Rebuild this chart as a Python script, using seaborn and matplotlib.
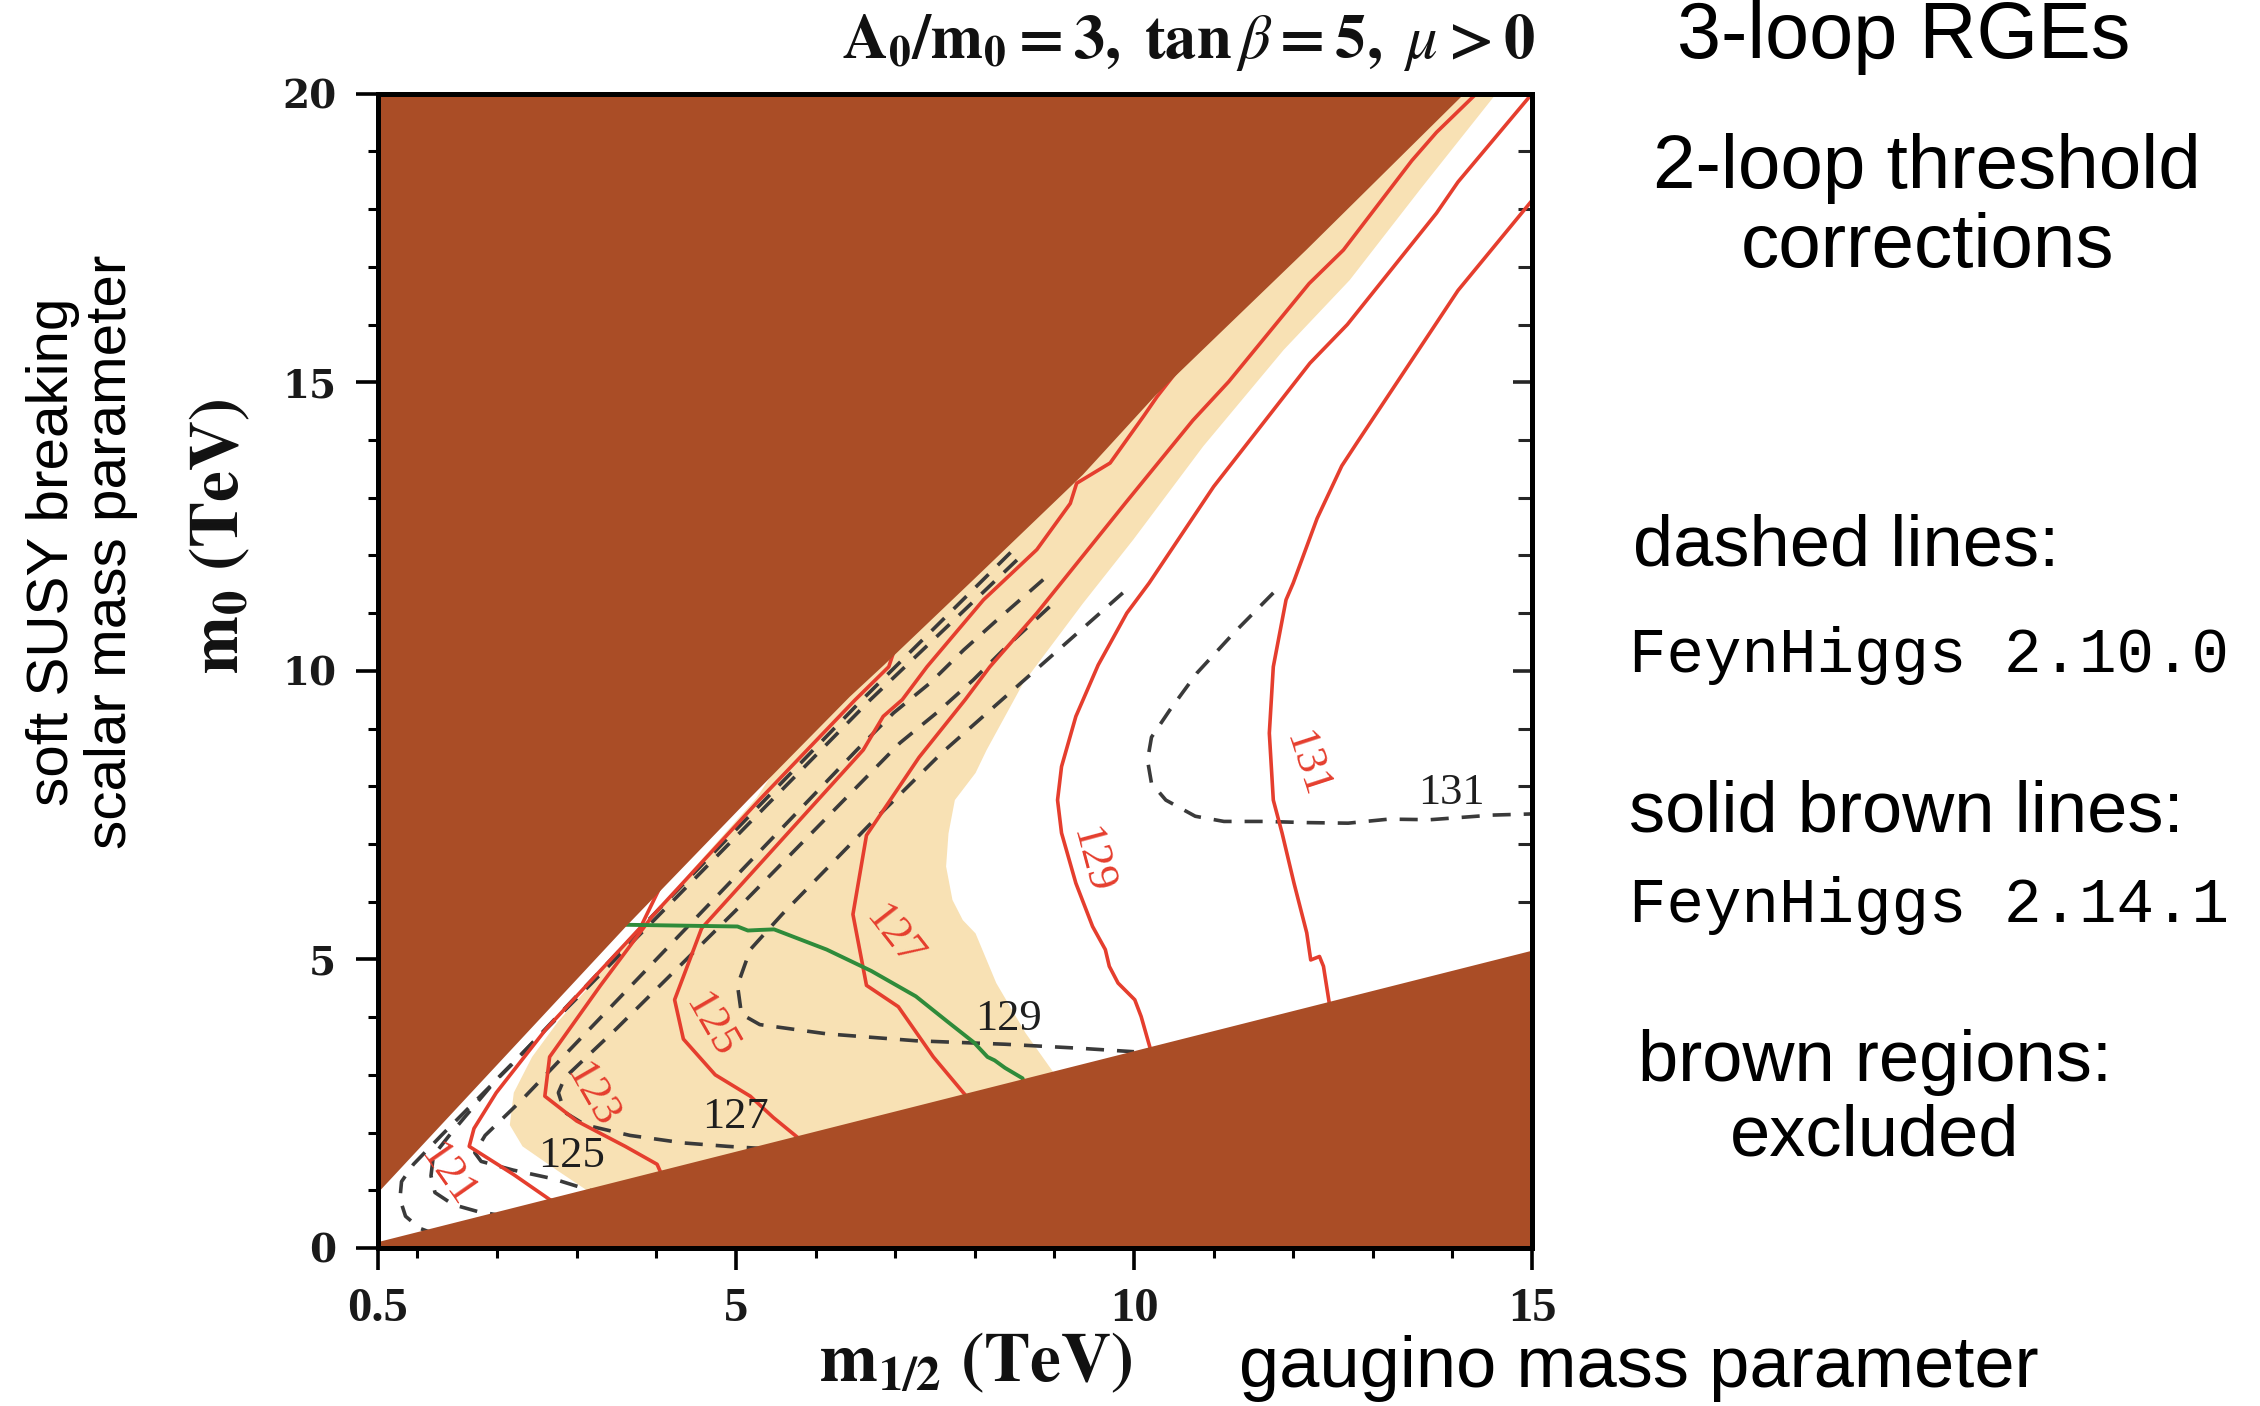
import matplotlib
matplotlib.use("Agg")
import numpy as np
import pandas as pd
import matplotlib.pyplot as plt
from matplotlib.ticker import MultipleLocator, NullFormatter
import seaborn as sns

sns.set_theme(style="ticks")
plt.rcParams["font.family"] = ["DejaVu Sans"]
plt.rcParams["mathtext.fontset"] = "stix"
plt.rcParams["lines.dashed_pattern"] = [5.0, 3.6]

# ---------------- data (m_1/2 [TeV], m_0 [TeV]) ----------------
# excluded regions
upper_excl_m12 = [0.5, 3.64, 5.18, 6.43, 6.86, 8.0, 9.36, 10.29, 12.17, 14.15, 14.15, 0.0, 0.0]
upper_excl_m0 = [0.95, 5.6, 7.8, 9.55, 10.1, 11.6, 13.4, 14.8, 17.3, 20.0, 21.0, 21.0, 0.95]
lower_excl_m12 = [0.0, 0.5, 15.0, 15.5, 15.5, 0.0]
lower_excl_m0 = [0.08, 0.1, 5.15, 5.3, -1.0, -1.0]

# shaded band
band_m12 = [3.4, 3.17, 2.77, 2.32, 2.16, 2.21, 2.44, 2.77, 3.17, 3.56, 3.92, 4.42, 5.26, 5.5, 4.5,
            12.0, 14.9, 14.55, 13.6, 12.71, 11.88, 10.87, 9.99, 9.36, 8.61, 8.15, 8.01, 7.75,
            7.67, 7.64, 7.72, 7.85, 8.01, 8.27, 8.64, 9.01, 9.3]
band_m0 = [0.5, 0.96, 1.33, 1.76, 2.13, 2.69, 3.31, 3.93, 4.55, 5.17, 5.66, 6.5, 7.8, 8.3, 8.5,
           21.0, 21.0, 20.0, 18.35, 16.77, 15.56, 13.89, 12.27, 11.17, 9.79, 8.63, 8.23, 7.76,
           7.18, 6.61, 6.03, 5.68, 5.45, 4.59, 3.72, 3.0, 2.0]

# FeynHiggs 2.14.1 contours (solid)
fh14_levels = [121, 123, 125, 127, 129, 131]
fh14_121_m12 = [4.1, 3.8, 2.62, 1.99, 1.71, 1.65, 2.21, 2.66, 2.95]
fh14_121_m0 = [6.4, 5.55, 3.8, 2.69, 2.07, 1.76, 1.27, 0.84, 0.65]
fh14_123_m12 = [7.0, 6.92, 6.5, 5.32, 3.95, 3.3, 2.66, 2.6, 3.0, 3.61, 4.01, 4.09, 4.3]
fh14_123_m0 = [10.4, 10.07, 9.5, 7.8, 5.75, 4.55, 3.31, 2.63, 2.2, 1.76, 1.45, 1.2, 0.9]
fh14_125_m12 = [10.6, 10.29, 10.12, 9.7, 9.28, 9.2, 8.78, 8.11, 7.4, 7.09, 6.85, 6.6, 4.57,
                4.23, 4.34, 4.74, 5.18, 5.47, 5.86, 6.1]
fh14_125_m0 = [15.3, 14.75, 14.41, 13.6, 13.25, 12.9, 12.1, 11.23, 10.07, 9.5, 9.21, 8.63, 5.54,
               4.3, 3.62, 3.0, 2.63, 2.26, 1.82, 1.6]
fh14_127_m12 = [14.3, 13.8, 13.49, 12.63, 12.2, 11.19, 10.74, 9.9, 8.78, 8.19, 7.88, 7.3, 6.64,
                6.47, 6.64, 7.04, 7.48, 7.93, 8.15]
fh14_127_m0 = [20.0, 19.33, 18.84, 17.29, 16.71, 15.01, 14.34, 12.92, 11.0, 10.07, 9.5, 8.5, 7.15,
               5.78, 4.55, 4.18, 3.31, 2.57, 2.2]
fh14_129_m12 = [15.0, 14.07, 13.8, 12.68, 12.21, 11.0, 10.19, 9.91, 9.55, 9.27, 9.09, 9.04, 9.09,
                9.27, 9.48, 9.64, 9.69, 9.8, 10.01, 10.09, 10.22, 10.35]
fh14_129_m0 = [20.0, 18.47, 17.93, 16.0, 15.33, 13.19, 11.52, 11.0, 10.1, 9.21, 8.34, 7.76, 7.19,
               6.32, 5.57, 5.17, 4.88, 4.59, 4.3, 4.01, 3.38, 3.0]
fh14_131_m12 = [15.0, 14.07, 12.8, 12.61, 12.3, 12.0, 11.91, 11.75, 11.7, 11.75, 11.86, 12.01,
                12.17, 12.22, 12.33, 12.38, 12.46, 12.6]
fh14_131_m0 = [18.15, 16.59, 13.95, 13.55, 12.64, 11.52, 11.23, 10.07, 8.92, 7.76, 7.19, 6.32,
               5.46, 4.99, 5.05, 4.88, 4.18, 3.5]

# FeynHiggs 2.10.0 contours (dashed)
fh10_levels = [121, 123, 125, 127, 129, 131]
fh10_121_m12 = [8.45, 6.55, 3.9, 2.2, 1.3, 0.95, 0.8, 0.78, 0.85, 1.03, 1.3]
fh10_121_m0 = [12.05, 9.45, 5.68, 3.2, 1.95, 1.45, 1.15, 0.85, 0.55, 0.34, 0.2]
fh10_123_m12 = [8.53, 7.52, 6.69, 4.0, 2.0, 1.4, 1.2, 1.17, 1.22, 1.45, 1.76, 2.1]
fh10_123_m0 = [11.92, 10.59, 9.5, 5.72, 2.93, 1.95, 1.6, 1.25, 0.96, 0.75, 0.63, 0.55]
fh10_125_m12 = [8.86, 8.28, 7.86, 7.44, 6.98, 6.52, 4.0, 2.3, 1.85, 1.72, 1.8, 2.2, 2.7, 3.05, 3.4]
fh10_125_m0 = [11.58, 10.88, 10.36, 9.79, 9.27, 8.63, 5.0, 2.55, 1.95, 1.65, 1.5, 1.35, 1.2, 1.05, 0.9]
fh10_127_m12 = [8.94, 8.4, 7.98, 7.52, 7.06, 5.0, 3.5, 2.85, 2.77, 2.85, 3.11, 3.67, 4.34, 4.9, 5.6]
fh10_127_m0 = [11.11, 10.42, 9.84, 9.27, 8.75, 5.85, 3.8, 2.95, 2.69, 2.35, 2.13, 1.95, 1.82, 1.76, 1.7]
fh10_129_m12 = [9.86, 8.86, 7.58, 6.74, 5.58, 5.18, 5.02, 5.07, 5.3, 6.14, 7.26, 8.38, 9.32, 10.0]
fh10_129_m0 = [11.35, 10.13, 8.57, 7.42, 5.78, 5.17, 4.55, 4.05, 3.87, 3.71, 3.59, 3.53, 3.46, 3.4]
fh10_131_m12 = [11.75, 11.25, 10.79, 10.45, 10.22, 10.17, 10.22, 10.4, 10.77, 11.13, 11.65, 12.17,
                12.69, 13.2, 13.72, 14.5, 15.0]
fh10_131_m0 = [11.35, 10.65, 9.96, 9.32, 8.85, 8.45, 8.05, 7.76, 7.48, 7.39, 7.39, 7.37, 7.36,
               7.43, 7.42, 7.5, 7.52]

# green boundary
green_m12 = [3.6, 5.02, 5.15, 5.3, 5.48, 6.14, 6.7, 7.26, 7.65, 7.99, 8.16, 8.25, 8.38, 8.6, 8.66, 8.7]
green_m0 = [5.6, 5.57, 5.5, 5.51, 5.52, 5.17, 4.8, 4.36, 3.93, 3.56, 3.31, 3.25, 3.12, 2.94, 2.69, 2.5]

# contour label placement
fh14_label_m12 = [1.37, 3.18, 4.68, 6.98, 9.46, 12.16]
fh14_label_m0 = [1.27, 2.65, 3.85, 5.39, 6.72, 8.39]
fh14_label_rot = [-55, -60, -60, -52, -75, -72]
fh10_label_levels = [125, 127, 129, 131]
fh10_label_m12 = [2.94, 4.99, 8.43, 13.99]
fh10_label_m0 = [1.6, 2.27, 3.97, 7.89]

x_major = [0.5, 5, 10, 15]
x_major_labels = ["0.5", "5", "10", "15"]
y_major = [0, 5, 10, 15, 20]

BROWN = "#AA4D26"
TAN = "#F8E1B4"
RED = "#E53E2E"
DASH = "#3A3A3A"
GREEN = "#2F8B3A"


def long_frame(prefix, levels):
    parts = []
    for lev in levels:
        xs = globals()[f"{prefix}_{lev}_m12"]
        ys = globals()[f"{prefix}_{lev}_m0"]
        parts.append(pd.DataFrame({"m12": xs, "m0": ys, "level": lev,
                                   "order": np.arange(len(xs))}))
    return pd.concat(parts, ignore_index=True)


fh14 = long_frame("fh14", fh14_levels)
fh10 = long_frame("fh10", fh10_levels)
green = pd.DataFrame({"m12": green_m12, "m0": green_m0})

# ---------------- figure ----------------
fig = plt.figure(figsize=(11.3, 7.03), dpi=200, facecolor="white")
ax = fig.add_axes([0.1671, 0.1124, 0.5108, 0.8210])
ax.set_facecolor("white")

ax.fill(band_m12, band_m0, color=TAN, lw=0, zorder=1)

sns.lineplot(data=fh10, x="m12", y="m0", units="level", estimator=None, sort=False,
             color=DASH, lw=1.3, linestyle="--", legend=False, ax=ax, zorder=2)
sns.lineplot(data=fh14, x="m12", y="m0", units="level", estimator=None, sort=False,
             color=RED, lw=1.3, legend=False, ax=ax, zorder=2.2)
sns.lineplot(data=green, x="m12", y="m0", estimator=None, sort=False,
             color=GREEN, lw=1.4, legend=False, ax=ax, zorder=2.3)

ax.fill(upper_excl_m12, upper_excl_m0, color=BROWN, lw=0, zorder=3)
ax.fill(lower_excl_m12, lower_excl_m0, color=BROWN, lw=0, zorder=3)

for lev, x, y, r in zip(fh14_levels, fh14_label_m12, fh14_label_m0, fh14_label_rot):
    ax.text(x, y, str(lev), color=RED, fontsize=16, family="Liberation Serif",
            rotation=r, rotation_mode="anchor", ha="center", va="center", zorder=4)
for lev, x, y in zip(fh10_label_levels, fh10_label_m12, fh10_label_m0):
    ax.text(x, y, str(lev), color="#1E1E1E", fontsize=16, family="Liberation Serif",
            ha="center", va="center", zorder=4)

ax.set_xlim(0.5, 15)
ax.set_ylim(0, 20)
ax.set_xlabel("")
ax.set_ylabel("")
ax.set_xticks(x_major)
ax.set_xticklabels(x_major_labels)
ax.set_yticks(y_major)
ax.xaxis.set_minor_locator(MultipleLocator(1))
ax.yaxis.set_minor_locator(MultipleLocator(1))
ax.tick_params(which="major", direction="out", length=7.9, width=1.3, color="black",
               top=False, right=False)
ax.tick_params(which="minor", direction="out", length=3.6, width=1.1, color="black",
               top=False, right=False)
ax.tick_params(axis="x", which="major", pad=6.0)
ax.tick_params(axis="y", which="major", pad=7.0)
for lab in ax.get_xticklabels():
    lab.set_fontfamily("Liberation Serif")
    lab.set_fontweight("bold")
    lab.set_fontsize(17.5)
    lab.set_color("#1A1A1A")
for lab in ax.get_yticklabels():
    lab.set_fontfamily("DejaVu Serif")
    lab.set_fontweight("bold")
    lab.set_fontsize(14)
    lab.set_color("#1A1A1A")

for sp in ax.spines.values():
    sp.set_visible(True)
    sp.set_color("black")
    sp.set_linewidth(1.8)
    sp.set_zorder(10)

top = ax.secondary_xaxis("top")
top.set_xticks(x_major)
top.xaxis.set_minor_locator(MultipleLocator(1))
top.xaxis.set_major_formatter(NullFormatter())
top.tick_params(which="major", direction="in", length=4.7, width=1.3)
top.tick_params(which="minor", direction="in", length=3.0, width=1.1)
top.spines["top"].set_linewidth(1.8)

right = ax.secondary_yaxis("right")
right.set_yticks(y_major)
right.yaxis.set_minor_locator(MultipleLocator(1))
right.yaxis.set_major_formatter(NullFormatter())
right.tick_params(which="major", direction="in", length=6.8, width=1.3)
right.tick_params(which="minor", direction="in", length=5.0, width=1.1)
right.spines["right"].set_linewidth(1.8)

W, H = 2260.0, 1406.0


def fx(px):
    return px / W


def fy(py):
    return 1.0 - py / H


# title and axis titles
fig.text(fx(1535), fy(58),
         r"$\mathbf{A_0/m_0 = 3,\ tan}\,\beta \mathbf{= 5,}\ \mu \mathbf{> 0}$",
         ha="right", va="baseline", fontsize=22.5, color="#111111")
fig.text(fx(976), fy(1362), r"$\mathbf{m_{1/2}\ (TeV)}$", ha="center", va="center",
         fontsize=25, color="#111111")
fig.text(fx(219), fy(536), r"$\mathbf{m_0\ (TeV)}$", ha="center", va="center",
         rotation=90, fontsize=25, color="#111111")

# annotations
sans = "Liberation Sans"
mono = "Liberation Mono"
fig.text(fx(82), fy(552), "soft SUSY breaking\nscalar mass parameter", rotation=90,
         ha="center", va="center", multialignment="center", fontsize=21, family=sans,
         linespacing=1.1, color="black")
fig.text(fx(1904), fy(58), "3-loop RGEs", ha="center", va="baseline", fontsize=28.5,
         family=sans, color="black")
fig.text(fx(1927), fy(188), "2-loop threshold", ha="center", va="baseline", fontsize=27.5,
         family=sans, color="black")
fig.text(fx(1927), fy(267), "corrections", ha="center", va="baseline", fontsize=27.5,
         family=sans, color="black")
fig.text(fx(1633), fy(566), "dashed lines:", ha="left", va="baseline", fontsize=26,
         family=sans, color="black")
fig.text(fx(1629), fy(672), "FeynHiggs 2.10.0", ha="left", va="baseline", fontsize=22.5,
         family=mono, color="black")
fig.text(fx(1629), fy(831), "solid brown lines:", ha="left", va="baseline", fontsize=26,
         family=sans, color="black")
fig.text(fx(1629), fy(922), "FeynHiggs 2.14.1", ha="left", va="baseline", fontsize=22.5,
         family=mono, color="black")
fig.text(fx(1875), fy(1081), "brown regions:", ha="center", va="baseline", fontsize=26,
         family=sans, color="black")
fig.text(fx(1875), fy(1156), "excluded", ha="center", va="baseline", fontsize=26,
         family=sans, color="black")
fig.text(fx(1239), fy(1387), "gaugino mass parameter", ha="left", va="baseline",
         fontsize=26, family=sans, color="black")

fig.savefig("out.png", dpi=200, facecolor="white")
